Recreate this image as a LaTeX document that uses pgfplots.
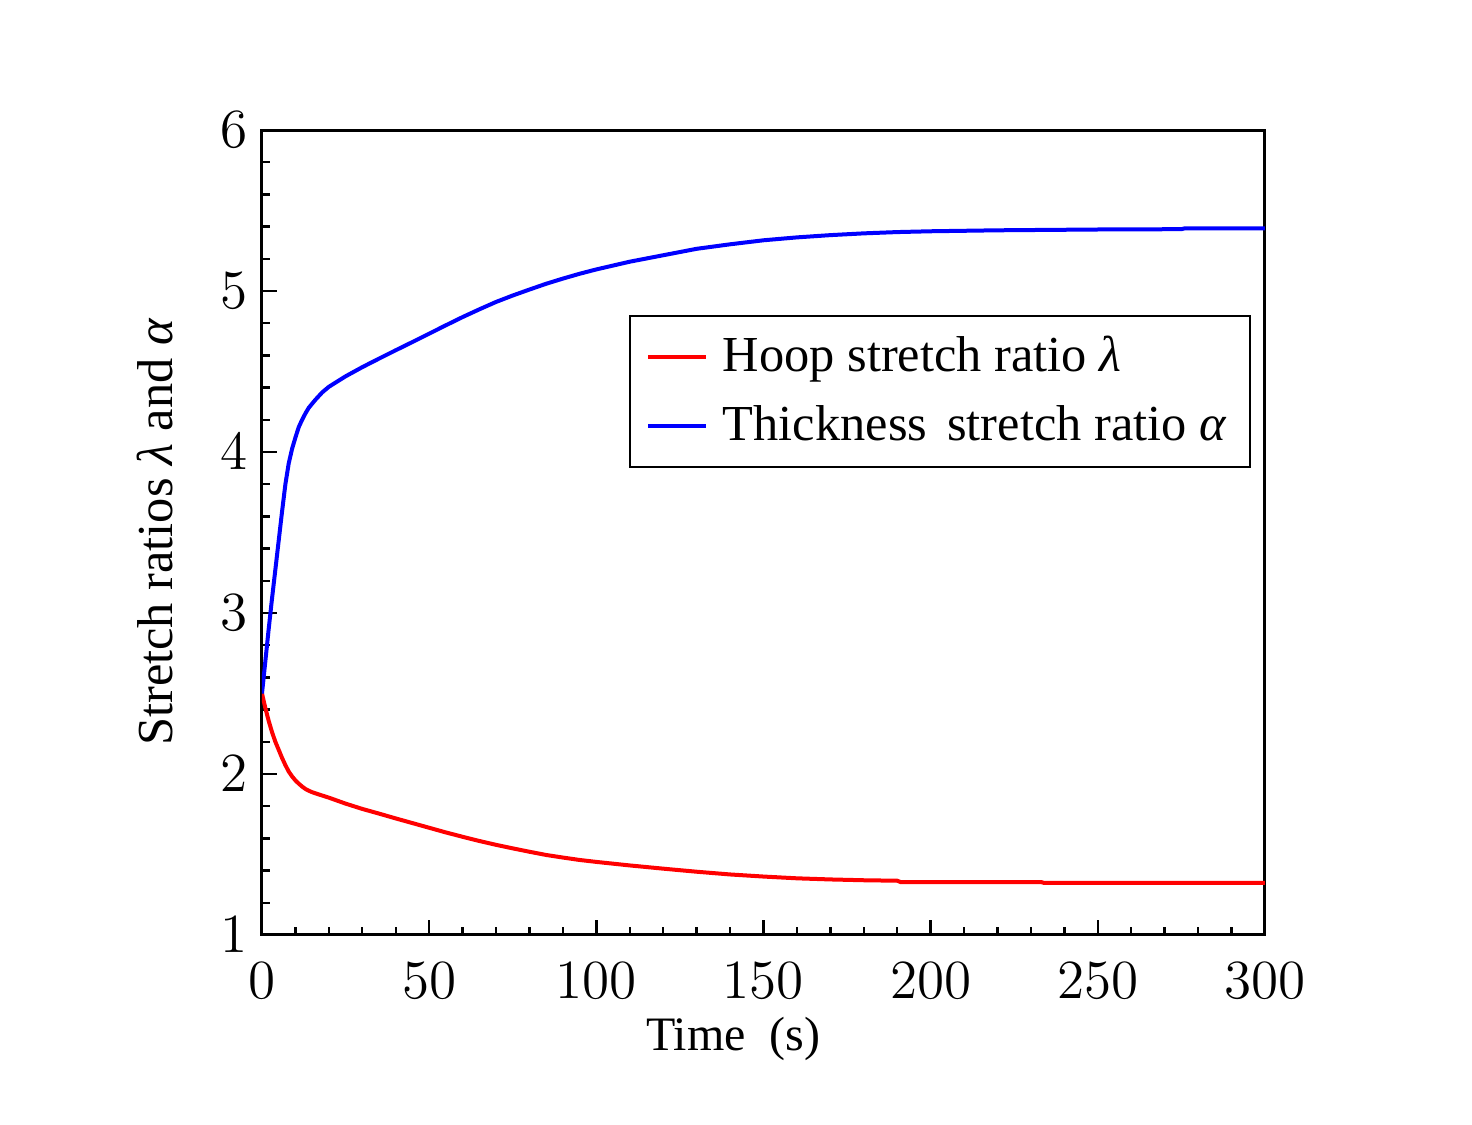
\documentclass[border=0pt]{standalone}
\usepackage[no-math]{fontspec}
\setmainfont{Liberation Serif}
\usepackage{pgfplots}
\pgfplotsset{compat=1.18}

\begin{document}
\begin{tikzpicture}
\path[use as bounding box] (-65.5pt,-47.5pt) rectangle (302.5pt,233.75pt);
\begin{axis}[
at={(0,0)}, anchor=south west,
scale only axis,
width=250.75pt, height=201.25pt,
xmin=0, xmax=300,
ymin=1, ymax=6,
xtick={0,50,...,300},
ytick={1,2,...,6},
minor x tick num=4,
minor y tick num=4,
tick align=inside,
xtick pos=bottom,
ytick pos=left,
major tick length=3.75pt,
minor tick length=2pt,
every tick/.style={black, line width=0.6pt},
axis line style={line width=0.75pt},
ticklabel style={font=\fontsize{13.1}{13.1}\selectfont, scale=1.15},
xticklabel style={yshift=-2.5pt},
yticklabel style={xshift=0.3pt},
xlabel={Time\ \ (s)},
ylabel={Stretch ratios {\itshape λ} and {\itshape α}},
xlabel style={font=\fontsize{12}{12}\selectfont, at={(axis description cs:0.47,-0.143)}, anchor=base},
ylabel style={font=\fontsize{12.6}{12.6}\selectfont, at={(axis description cs:-0.107,0.5)}, anchor=center},
legend style={at={(0.366,0.770)}, anchor=north west, draw=black, line width=0.5pt,
  font=\fontsize{12.6}{12.6}\selectfont, inner xsep=4pt, inner ysep=3pt,
  row sep=3pt, cells={anchor=west}},
legend image code/.code={\draw[#1, line width=1pt] (0pt,0pt) -- (14.5pt,0pt);
  \path (16.2pt,0pt);},
]
\addplot[red, line width=1pt] coordinates {
(0,2.50) (1,2.41) (2,2.33) (3,2.26) (4,2.20) (5,2.15) (6,2.10) (7,2.055)
(8,2.015) (9,1.985) (10,1.96) (11,1.94) (12,1.922) (13,1.907) (14,1.896)
(15,1.887) (17,1.873) (20,1.853) (25,1.816) (30,1.783) (35,1.754) (40,1.724)
(45,1.695) (50,1.666) (55,1.637) (60,1.61) (65,1.584) (70,1.56) (75,1.538)
(80,1.517) (85,1.497) (90,1.481) (95,1.466) (100,1.454) (105,1.443)
(110,1.432) (120,1.412) (130,1.393) (140,1.376) (150,1.363) (160,1.352)
(170,1.345) (180,1.340) (190,1.337)
(191,1.329) (233,1.329) (234,1.323) (300,1.323)
};
\addlegendentry{Hoop stretch ratio {\itshape λ}}
\addplot[blue, line width=1pt] coordinates {
(0,2.50) (1,2.70) (2,2.90) (3,3.09) (4,3.27) (5,3.45) (6,3.63) (7,3.80)
(8,3.93) (9,4.02) (10,4.09) (11,4.155) (12,4.20) (13,4.24) (14,4.275)
(16,4.325) (18,4.37) (20,4.405) (25,4.47) (30,4.527) (35,4.58) (40,4.632)
(45,4.683) (50,4.735) (55,4.787) (60,4.838) (65,4.886) (70,4.932) (75,4.972)
(80,5.009) (85,5.045) (90,5.077) (95,5.107) (100,5.134) (105,5.158)
(110,5.182) (115,5.202) (120,5.222) (130,5.262) (140,5.29) (150,5.315)
(160,5.333) (170,5.347) (180,5.358) (190,5.366) (200,5.371) (220,5.377)
(250,5.382) (275,5.384) (276,5.389) (300,5.389)
};
\addlegendentry{Thickness\hspace{0.15em}\ stretch ratio {\itshape α}}
\end{axis}
\end{tikzpicture}
\end{document}
